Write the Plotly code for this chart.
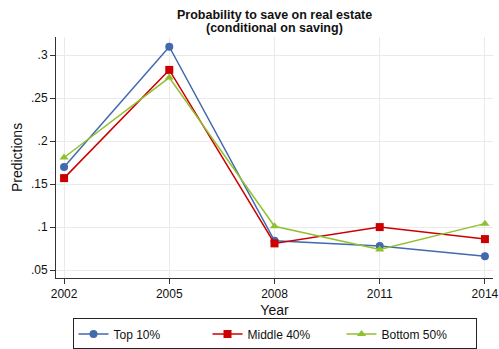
import plotly.graph_objects as go

years = [2002, 2005, 2008, 2011, 2014]

top10 = [0.170, 0.310, 0.084, 0.078, 0.066]
middle40 = [0.157, 0.283, 0.081, 0.100, 0.086]
bottom50 = [0.181, 0.274, 0.101, 0.074, 0.104]

y_ticks = [0.05, 0.10, 0.15, 0.20, 0.25, 0.30]
y_tick_labels = [".05", ".1", ".15", ".2", ".25", ".3"]

title_lines = ["Probability to save on real estate", "(conditional on saving)"]

series = [
    ("Top 10%", top10, "#4169AE", "circle"),
    ("Middle 40%", middle40, "#CC0000", "square"),
    ("Bottom 50%", bottom50, "#90C030", "triangle-up"),
]

fig = go.Figure()
for name, vals, color, symbol in series:
    fig.add_trace(go.Scatter(
        x=years, y=vals, name=name, mode="lines+markers",
        line=dict(color=color, width=1.5),
        marker=dict(color=color, symbol=symbol, size=8),
    ))

# title as two separate lines so spacing matches
for i, line in enumerate(title_lines):
    fig.add_annotation(
        text="<b>" + line + "</b>", xref="paper", yref="paper",
        x=0.5, y=1 + (22 - 13 * i) / 241, xanchor="center", yanchor="middle",
        showarrow=False, font=dict(size=12.5),
    )

fig.update_layout(
    width=499, height=349,
    margin=dict(l=56, r=6, t=37, b=71, autoexpand=False),
    paper_bgcolor="white", plot_bgcolor="white",
    font=dict(family="Liberation Sans, Arial", size=12, color="#111111"),
    showlegend=True,
    legend=dict(
        orientation="h", x=0.5, xanchor="center", y=-0.168, yanchor="top",
        bordercolor="#222222", borderwidth=1, font=dict(size=12),
        entrywidth=89,
    ),
)

fig.update_xaxes(
    range=[2001.77, 2014.23], tickvals=years, ticks="outside", ticklen=5,
    tickcolor="#333333", showline=True, linecolor="#333333", linewidth=1,
    showgrid=True, gridcolor="#EAEAEA", gridwidth=1, zeroline=False,
    automargin=False, title=dict(text="Year", standoff=4),
)
fig.update_yaxes(
    range=[0.0407, 0.3213], tickvals=y_ticks, ticktext=y_tick_labels,
    ticks="outside", ticklen=5, tickcolor="#333333",
    showline=True, linecolor="#333333", linewidth=1,
    showgrid=True, gridcolor="#EAEAEA", gridwidth=1, zeroline=False,
    automargin=False, title=dict(text="Predictions", standoff=5),
)

# page has a default body margin; drop it so the figure sits at 0,0
fig.write_html(
    "out.html",
    config={"displayModeBar": False},
    post_script="document.body.style.margin='0';",
)
